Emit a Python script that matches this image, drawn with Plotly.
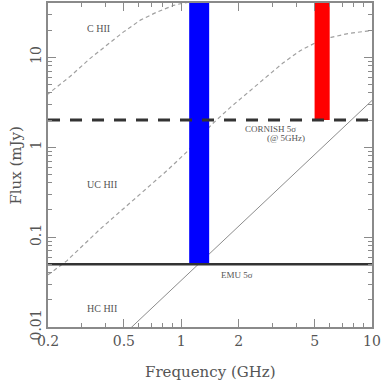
import plotly.graph_objects as go

# HII region model spectra
freq_chii = [0.197, 0.261, 0.333, 0.407, 0.498, 0.610, 0.747, 0.913, 1.03, 1.3, 2.0, 10]
flux_chii = [3.8, 6.1, 9.7, 13.6, 19.1, 25.8, 31.8, 37.7, 40.0, 43.0, 46.0, 47.0]

freq_uchii = [0.2, 0.25, 0.376, 0.562, 0.843, 1.09, 1.45, 1.82, 2.22, 2.78, 3.41, 4.2, 5.1, 6.1, 7.5, 10]
flux_uchii = [0.038, 0.054, 0.123, 0.26, 0.55, 0.92, 1.8, 2.8, 3.98, 6.0, 8.6, 11.8, 14.6, 16.6, 18.3, 19.8]

freq_hchii = [0.5, 0.55, 10]
flux_hchii = [0.0083, 0.01, 3.3]

# survey bands and sensitivity limits
emu_band = [1.1, 1.4]
emu_limit = 0.05
cornish_band = [5.0, 6.0]
cornish_limit = 2.0
flux_top = 100

freq_range = [0.2, 10]
x_ticks = [0.2, 0.5, 1, 2, 5, 10]
x_ticktext = ["0.2", "0.5", "1", "2", "5", "10"]
x_minor = [0.3, 0.4, 0.6, 0.7, 0.8, 0.9, 3, 4, 6, 7, 8, 9]
y_ticks = [0.01, 0.1, 1, 10]
y_ticktext = ["0.01", "0.1", "1", "10"]
y_minor = [m * d for d in (0.01, 0.1, 1, 10) for m in range(2, 10)]

GREY = "#8a8a8a"
TXT = "#555555"
FONT = "DejaVu Serif"
SMALL = "Liberation Serif"

fig = go.Figure()

for f, s in [(freq_chii, flux_chii), (freq_uchii, flux_uchii)]:
    fig.add_trace(go.Scatter(x=f, y=s, mode="lines",
                             line=dict(color="#a0a0a0", width=1.2, dash="4px,3px"),
                             hoverinfo="skip"))
fig.add_trace(go.Scatter(x=freq_hchii, y=flux_hchii, mode="lines",
                         line=dict(color="#8c8c8c", width=1), hoverinfo="skip"))

# survey bands as filled boxes
for band, low, col in [(emu_band, emu_limit, "#0000ff"), (cornish_band, cornish_limit, "#ff0000")]:
    fig.add_trace(go.Scatter(
        x=[band[0], band[1], band[1], band[0], band[0]],
        y=[low, low, flux_top, flux_top, low],
        mode="lines", fill="toself", fillcolor=col,
        line=dict(color=col, width=0), hoverinfo="skip"))

fig.add_trace(go.Scatter(x=freq_range, y=[cornish_limit, cornish_limit], mode="lines",
                         line=dict(color="#333333", width=3, dash="12px,10px"), hoverinfo="skip"))
fig.add_trace(go.Scatter(x=freq_range, y=[emu_limit, emu_limit], mode="lines",
                         line=dict(color="#333333", width=2.5), hoverinfo="skip"))

labels = [
    ("C HII", 0.157, 0.921, 10),
    ("UC HII", 0.167, 0.441, 10),
    ("HC HII", 0.167, 0.057, 10),
    ("CORNISH 5σ", 0.688, 0.611, 9),
    ("(@ 5GHz)", 0.736, 0.584, 9),
    ("EMU 5σ", 0.583, 0.162, 9),
]
for txt, xp, yp, sz in labels:
    fig.add_annotation(text=txt, x=xp, y=yp, xref="paper", yref="paper",
                       xanchor="center", yanchor="middle", showarrow=False,
                       font=dict(family=SMALL, size=sz, color=TXT))

fig.add_annotation(text="Frequency (GHz)", x=0.5, y=-0.138, xref="paper", yref="paper",
                   showarrow=False, xanchor="center", yanchor="middle",
                   font=dict(family=FONT, size=15, color=TXT))
fig.add_annotation(text="Flux (mJy)", x=-0.1, y=0.5, xref="paper", yref="paper",
                   showarrow=False, textangle=-90, xanchor="center", yanchor="middle",
                   font=dict(family=FONT, size=15, color=TXT))

axis_common = dict(
    type="log", showgrid=False, zeroline=False,
    showline=True, linecolor=GREY, linewidth=1.5, mirror="allticks",
    ticks="inside", ticklen=8, tickwidth=1, tickcolor=GREY,
    tickfont=dict(family=FONT, size=14, color=TXT),
)

fig.update_xaxes(**axis_common, range=[-0.699, 1], tickmode="array",
                 tickvals=x_ticks, ticktext=x_ticktext,
                 minor=dict(tickmode="array", tickvals=x_minor, ticks="inside",
                            ticklen=4, tickcolor=GREY))
fig.update_yaxes(**axis_common, range=[-2, 1.602], tickmode="array",
                 tickvals=y_ticks, ticktext=y_ticktext, tickangle=-90,
                 minor=dict(tickmode="array", tickvals=y_minor, ticks="inside",
                            ticklen=4, tickcolor=GREY))

fig.update_layout(
    width=382, height=382,
    margin=dict(l=48, r=10, t=1, b=55),
    plot_bgcolor="white", paper_bgcolor="white",
    showlegend=False,
)

fig.write_html("out.html", config={"displayModeBar": False},
               post_script="document.body.style.margin='0';")
